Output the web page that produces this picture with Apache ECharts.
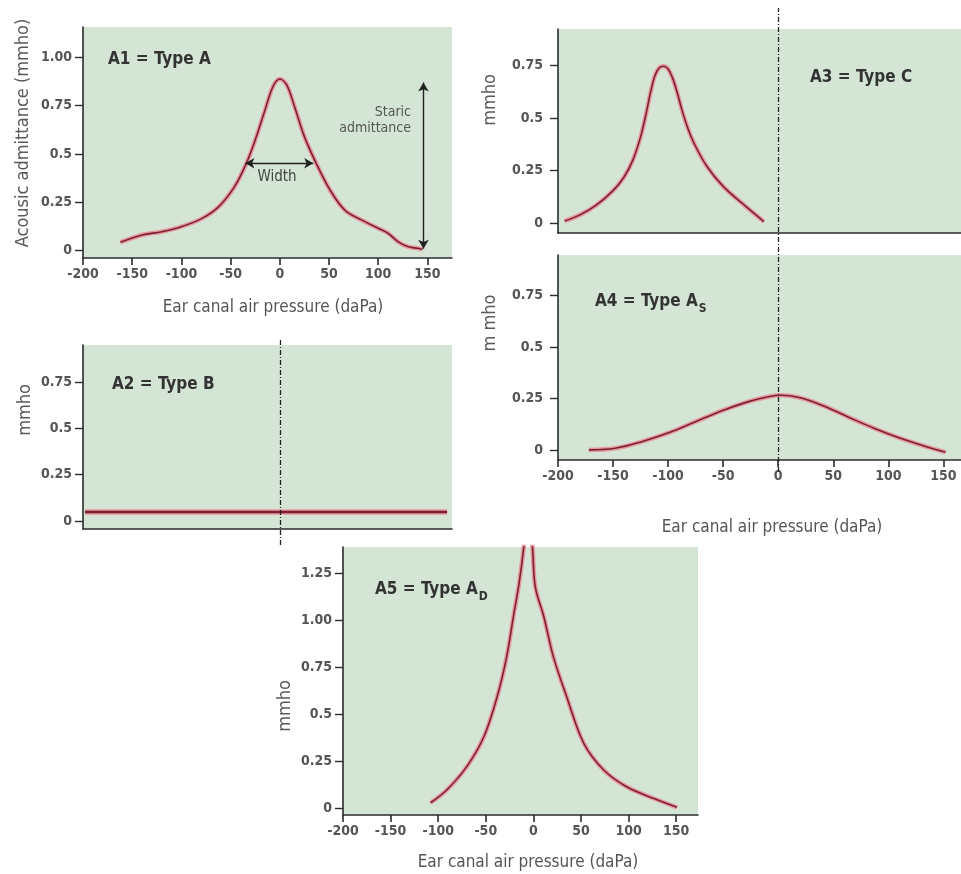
<!DOCTYPE html>
<html><head><meta charset="utf-8">
<script src="https://cdn.jsdelivr.net/npm/echarts@6/dist/echarts.min.js"></script>
<style>html,body{margin:0;padding:0;background:#fff}#c{width:961px;height:874px}</style>
</head><body><div id="c"></div>
<script>
// ---- tick values / labels ----
const xTickValues = [-200, -150, -100, -50, 0, 50, 100, 150];
const xTickLabels = ['-200', '-150', '-100', '-50', '0', '50', '100', '150'];
const yTickValues = [0, 0.25, 0.5, 0.75, 1.0, 1.25];
const yTickLabels = ['0', '0.25', '0.5', '0.75', '1.00', '1.25'];

// ---- A1 = Type A ----
const a1X = [-162, -140, -120, -100, -79, -62, -46, -34, -25, -15, -7, 0, 7, 15, 25, 37, 51, 66, 83, 100, 110, 120, 130, 140, 145];
const a1Y = [0.043, 0.081, 0.098, 0.124, 0.167, 0.228, 0.331, 0.452, 0.572, 0.728, 0.848, 0.888, 0.857, 0.745, 0.590, 0.452, 0.314, 0.210, 0.159, 0.116, 0.090, 0.047, 0.021, 0.012, 0.007];
const widthArrowX = [-35, 34];
const widthArrowY = 0.452;
const staticArrowX = 146;
const staticArrowY = [0.01, 0.87];

// ---- A2 = Type B ----
const a2X = [-198, 170];
const a2Y = [0.048, 0.048];

// ---- A3 = Type C ----
const a3X = [-194, -180, -165, -150, -140, -132, -125, -120, -116, -112, -108, -104, -100, -96, -92, -87, -82, -76, -65, -50, -31, -13];
const a3Y = [0.011, 0.040, 0.087, 0.155, 0.220, 0.300, 0.410, 0.520, 0.620, 0.700, 0.738, 0.745, 0.732, 0.690, 0.625, 0.530, 0.450, 0.375, 0.272, 0.175, 0.087, 0.008];

// ---- A4 = Type As ----
const a4X = [-172, -148, -124, -99, -75, -51, -27, -9, 3, 18, 39, 63, 87, 111, 136, 152];
const a4Y = [0.002, 0.010, 0.042, 0.086, 0.139, 0.192, 0.236, 0.260, 0.267, 0.257, 0.220, 0.163, 0.107, 0.058, 0.015, -0.009];

// ---- A5 = Type Ad ----
const a5X = [-108, -91, -70, -52, -38, -28, -21, -15, -10, -6, -1, 2, 11, 21, 35, 53, 74, 98, 126, 151];
const a5Y = [0.031, 0.099, 0.223, 0.382, 0.595, 0.808, 1.020, 1.198, 1.392, 1.6, 1.392, 1.180, 1.020, 0.808, 0.595, 0.347, 0.205, 0.116, 0.055, 0.007];

const zeroPressure = 0;

const FONT = "'Liberation Sans Narrow','DejaVu Sans Condensed','Open Sans',sans-serif";
const AXIS = '#2b2b2b';
const GREEN = '#d4e5d5';

function zip(xs, ys) { return xs.map((x, i) => [x, ys[i]]); }

const gridDefs = [
  {left: 83, right: 509, top: 27, bottom: 616},   // A1
  {left: 83, right: 509, top: 345, bottom: 345},  // A2
  {left: 558, right: 0, top: 29, bottom: 641},    // A3
  {left: 558, right: 0, top: 255, bottom: 414},   // A4
  {left: 343, right: 263, top: 547, bottom: 59}   // A5
];
const grids = gridDefs.map(g => Object.assign({show: true, backgroundColor: GREEN, borderWidth: 0, containLabel: false}, g));
// overlay grids for the dashed 0 daPa reference lines
grids.push({left: 83, right: 509, top: 340, bottom: 329, show: false});
grids.push({left: 558, right: 0, top: 8, bottom: 402, show: false});

const xRanges = [[-200, 175], [-200, 175], [-200, 166], [-200, 166], [-200, 173]];
const xShow = [true, false, false, true, true];
const yRanges = [[-0.038, 1.157], [-0.044, 0.951], [-0.046, 0.922], [-0.047, 0.947], [-0.034, 1.391]];
const yCount = [5, 4, 4, 4, 6];
const yMargin = [11, 11, 15, 15, 11];

const xAxes = xRanges.map((r, i) => ({
  type: 'value', gridIndex: i, min: r[0], max: r[1],
  axisLine: {show: true, onZero: false, lineStyle: {color: AXIS, width: 1.6}},
  axisTick: {show: xShow[i], customValues: xTickValues, length: 7, lineStyle: {color: AXIS, width: 1.6}},
  axisLabel: {show: xShow[i], customValues: xTickValues, formatter: v => xTickLabels[xTickValues.indexOf(v)],
    margin: 9, color: '#555', fontSize: 14, fontWeight: 'bold', fontFamily: FONT},
  splitLine: {show: false}
}));
xAxes.push({type: 'value', gridIndex: 5, min: -200, max: 175, show: false});
xAxes.push({type: 'value', gridIndex: 6, min: -200, max: 166, show: false});

const yAxes = yRanges.map((r, i) => {
  const vals = yTickValues.slice(0, yCount[i]);
  return {
    type: 'value', gridIndex: i, min: r[0], max: r[1],
    axisLine: {show: true, onZero: false, lineStyle: {color: AXIS, width: 1.6}},
    axisTick: {show: true, customValues: vals, length: 8, lineStyle: {color: AXIS, width: 1.4}},
    axisLabel: {show: true, customValues: vals, formatter: v => yTickLabels[yTickValues.indexOf(v)],
      margin: yMargin[i], color: '#555', fontSize: 14, fontWeight: 'bold', fontFamily: FONT},
    splitLine: {show: false}
  };
});
yAxes.push({type: 'value', gridIndex: 5, min: 0, max: 1, show: false});
yAxes.push({type: 'value', gridIndex: 6, min: 0, max: 1, show: false});

function curve(idx, xs, ys, coreW, haloW) {
  const data = zip(xs, ys);
  return [
    {type: 'line', xAxisIndex: idx, yAxisIndex: idx, data, smooth: 0.35, showSymbol: false, silent: true,
      lineStyle: {color: '#ea8c97', width: haloW, opacity: 0.85}, z: 2},
    {type: 'line', xAxisIndex: idx, yAxisIndex: idx, data, smooth: 0.35, showSymbol: false, silent: true,
      lineStyle: {color: '#7a2233', width: coreW}, z: 3}
  ];
}

const dashStyle = {type: [5, 2, 1, 2], color: '#222', width: 1.3};

const series = [
  ...curve(0, a1X, a1Y, 1.6, 4.5),
  {
    type: 'line', xAxisIndex: 0, yAxisIndex: 0, data: [], silent: true,
    markLine: {
      silent: true, symbol: ['arrow', 'arrow'], symbolSize: [8, 9], label: {show: false},
      lineStyle: {type: 'solid', color: '#222', width: 1.4},
      data: [
        [{coord: [widthArrowX[0], widthArrowY]}, {coord: [widthArrowX[1], widthArrowY]}],
        [{coord: [staticArrowX, staticArrowY[0]]}, {coord: [staticArrowX, staticArrowY[1]]}]
      ]
    }
  },
  ...curve(1, a2X, a2Y, 2.6, 5.5),
  ...curve(2, a3X, a3Y, 1.6, 4.5),
  ...curve(3, a4X, a4Y, 1.6, 4.5),
  ...curve(4, a5X, a5Y, 1.6, 4.5),
  {type: 'line', xAxisIndex: 5, yAxisIndex: 5, data: [], silent: true,
    markLine: {silent: true, symbol: 'none', label: {show: false}, lineStyle: dashStyle, data: [{xAxis: zeroPressure}]}},
  {type: 'line', xAxisIndex: 6, yAxisIndex: 6, data: [], silent: true,
    markLine: {silent: true, symbol: 'none', label: {show: false}, lineStyle: dashStyle, data: [{xAxis: zeroPressure}]}}
];

function txt(text, x, y, opts) {
  return {type: 'text', x, y, silent: true, z: 100, rotation: (opts && opts.rotation) || 0,
    style: Object.assign({text, fill: '#555', font: '17px ' + FONT, textAlign: 'center', textVerticalAlign: 'middle'}, opts && opts.style)};
}
const titleStyle = {fill: '#333', font: 'bold 17px ' + FONT, textAlign: 'left'};
const richSub = {s: {fontSize: 12, fontWeight: 'bold', fontFamily: FONT, fill: '#333', padding: [13, 0, 0, 1]}};
const yNameStyle = {font: '18px ' + FONT, fill: '#5a5a5a'};

const graphic = [
  txt('A1 = Type A', 108, 60, {style: titleStyle}),
  txt('A2 = Type B', 112, 385, {style: titleStyle}),
  txt('A3 = Type C', 810, 78, {style: titleStyle}),
  txt('A4 = Type A{s|S}', 595, 302, {style: Object.assign({rich: richSub}, titleStyle)}),
  txt('A5 = Type A{s|D}', 375, 590, {style: Object.assign({rich: richSub}, titleStyle)}),
  txt('Staric\nadmittance', 411, 120, {style: {textAlign: 'right', font: '14px ' + FONT, lineHeight: 16, fill: '#555'}}),
  txt('Width', 277, 177, {style: {font: '15px ' + FONT, fill: '#444'}}),
  txt('Ear canal air pressure (daPa)', 273, 308),
  txt('Ear canal air pressure (daPa)', 772, 528),
  txt('Ear canal air pressure (daPa)', 528, 863),
  txt('Acousic admittance (mmho)', 23, 133, {rotation: Math.PI / 2, style: yNameStyle}),
  txt('mmho', 25, 410, {rotation: Math.PI / 2, style: yNameStyle}),
  txt('mmho', 490, 100, {rotation: Math.PI / 2, style: yNameStyle}),
  txt('m mho', 490, 323, {rotation: Math.PI / 2, style: yNameStyle}),
  txt('mmho', 285, 706, {rotation: Math.PI / 2, style: yNameStyle})
];

const chart = echarts.init(document.getElementById('c'), null, {renderer: 'canvas'});
chart.setOption({
  animation: false,
  backgroundColor: '#ffffff',
  grid: grids,
  xAxis: xAxes,
  yAxis: yAxes,
  series,
  graphic
});
</script>
</body></html>
